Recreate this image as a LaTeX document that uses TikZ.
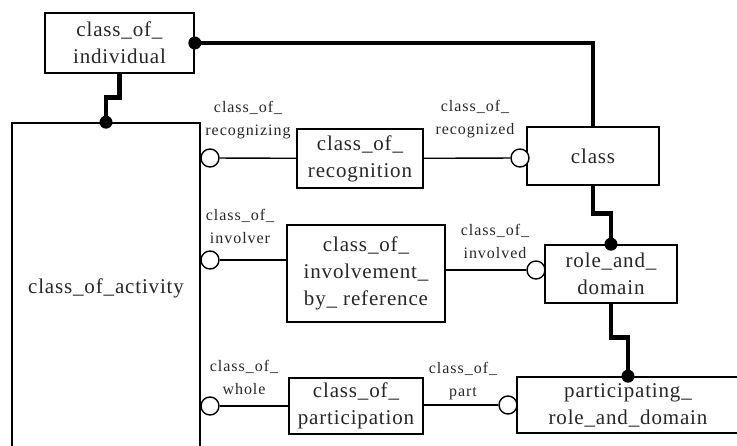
\documentclass[tikz,border=0pt]{standalone}
\usepackage{fontspec}
\setmainfont{Liberation Serif}
\newfontfamily\boxfont[LetterSpace=4]{Liberation Serif}
\newfontfamily\lblfont[LetterSpace=6]{Liberation Serif}
\begin{document}
\begin{tikzpicture}[x=1pt,y=-1pt,
  box/.style={draw, line width=1.6pt, rectangle, inner sep=0pt, align=center,
    font=\boxfont\fontsize{21}{27}\selectfont, text=black!85},
  lbl/.style={align=center, inner sep=0pt, font=\lblfont\fontsize{16}{23}\selectfont, text=black!85},
  thin/.style={line width=1.4pt},
  strong/.style={line width=4.8pt},
  opencirc/.style={draw, circle, line width=1.4pt, fill=white, minimum size=18pt, inner sep=0pt},
  dotr/.style={fill=black}]
\useasboundingbox (0,0) rectangle (737,446);
\clip (0,0) rectangle (737,446);
% boxes
\node[box, minimum width=149pt, minimum height=60pt] (indiv) at (119.5,43) {class\_of\_\\individual};
\node[box, minimum width=188pt, minimum height=330pt] (act) at (106,288) {class\_of\_activity};
\node[box, minimum width=126pt, minimum height=59pt] (recog) at (360,158.5) {class\_of\_\\recognition};
\node[box, minimum width=132pt, minimum height=58pt] (cls) at (593,156) {class};
\node[box, minimum width=158pt, minimum height=97pt] (invol) at (366,273.5) {class\_of\_\\involvement\_\\by\_ reference};
\node[box, minimum width=132pt, minimum height=58pt] (role) at (611,274) {role\_and\_\\domain};
\node[box, minimum width=134pt, minimum height=56pt] (partic) at (356,406) {class\_of\_\\participation};
\node[box, minimum width=222pt, minimum height=56pt] (prole) at (628,405) {participating\_\\role\_and\_domain};
% open circles
\node[opencirc] (c1) at (210,158) {};
\node[opencirc] (c2) at (520,158) {};
\node[opencirc] (c3) at (210,260) {};
\node[opencirc] (c4) at (536,270) {};
\node[opencirc] (c5) at (210,406) {};
\node[opencirc] (c6) at (508,405) {};
% thin connectors
\draw[thin] (c1) -- (recog);
\draw[thin] (recog) -- (c2);
\draw[thin] (c3) -- (invol.west |- c3);
\draw[thin] (invol.east |- c4) -- (c4);
\draw[thin] (c5) -- (partic);
\draw[thin] (partic.east |- c6) -- (c6);
% thick connectors
\draw[strong] (indiv.east) -| (cls.north);
\draw[strong] (indiv.south) -- ++(0,24) -| (act.north);
\draw[strong] (cls.south) -- ++(0,28) -| (role.north);
\draw[strong] (role.south) -- ++(0,34) -| (prole.north);
\fill[dotr] (indiv.east) circle (6.5pt);
\fill[dotr] (act.north) circle (6.5pt);
\fill[dotr] (role.north) circle (6.5pt);
\fill[dotr] (prole.north) circle (6.5pt);
% labels
\node[lbl] (l1) at (248,120) {class\_of\_\\recognizing};
\node[lbl] (l2) at (475,119) {class\_of\_\\recognized};
\node[lbl] (l3) at (240,226) {class\_of\_\\involver};
\node[lbl] (l4) at (495,241) {class\_of\_\\involved};
\node[lbl] (l5) at (244,377) {class\_of\_\\whole};
\node[lbl] (l6) at (463,381) {class\_of\_\\part};
\end{tikzpicture}
\end{document}
